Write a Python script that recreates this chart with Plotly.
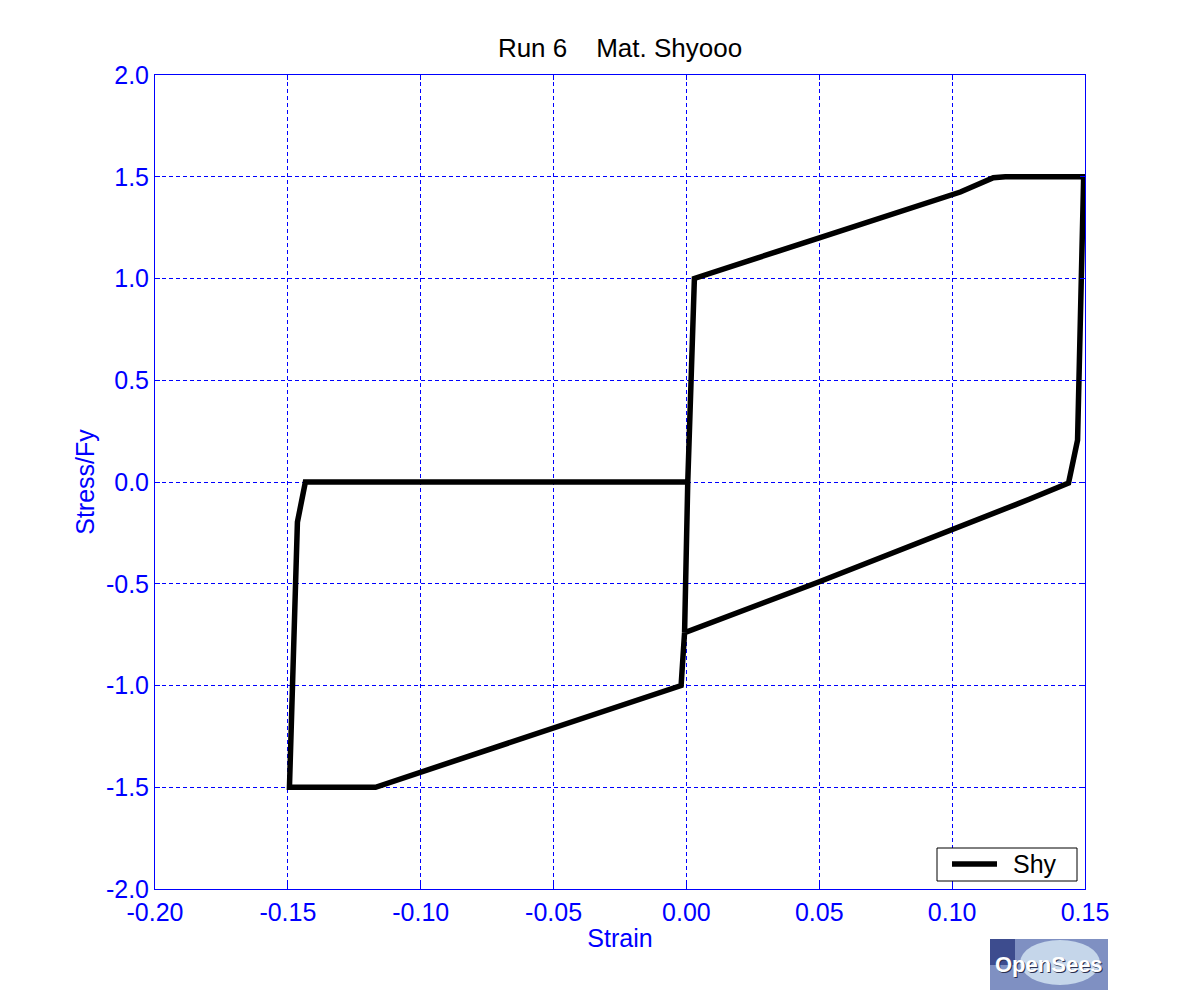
import plotly.graph_objects as go

# Hysteresis path (strain, stress/Fy)
strain = [0.0005, 0.003, 0.050, 0.1031, 0.1155, 0.1200, 0.1495, 0.1472, 0.1438,
          0.1290, 0.0500, -0.0007, -0.0020, -0.0500, -0.1140, -0.1170, -0.1494,
          -0.1464, -0.1434, 0.0005, -0.0007]
stress = [0.0, 1.0, 1.20, 1.425, 1.495, 1.50, 1.50, 0.206, -0.005,
          -0.085, -0.49, -0.74, -1.0, -1.21, -1.49, -1.50, -1.50,
          -0.197, 0.0, 0.0, -0.74]
series_name = "Shy"

x_ticks = [-0.20, -0.15, -0.10, -0.05, 0.00, 0.05, 0.10, 0.15]
x_tick_text = ["-0.20", "-0.15", "-0.10", "-0.05", "0.00", "0.05", "0.10", "0.15"]
y_ticks = [-2.0, -1.5, -1.0, -0.5, 0.0, 0.5, 1.0, 1.5, 2.0]
y_tick_text = ["-2.0", "-1.5", "-1.0", "-0.5", "0.0", "0.5", "1.0", "1.5", "2.0"]

FONT = "Liberation Sans, Arial, sans-serif"

# page pixel -> paper coordinate helpers (plot area: x 155..1085, y 75..889 on page)
def px(X):
    return (X - 155) / 930

def py(Y):
    return (889 - Y) / 814

fig = go.Figure()
fig.add_trace(go.Scatter(x=strain, y=stress, mode="lines", name=series_name,
                         line=dict(color="black", width=5.5), showlegend=False))

axis_common = dict(
    showline=True, linecolor="blue", linewidth=1, mirror="ticks",
    ticks="inside", ticklen=5, tickcolor="blue",
    showgrid=True, gridcolor="blue", gridwidth=1, griddash="4px,3px",
    zeroline=False,
    tickfont=dict(family=FONT, size=25, color="blue"),
)

fig.update_layout(
    width=1192, height=992,
    paper_bgcolor="white", plot_bgcolor="white",
    margin=dict(l=147, r=115, t=67, b=111),
    title=dict(text="Run 6&nbsp;&nbsp;&nbsp;&nbsp;Mat. Shyooo",
               x=612 / 1192, xanchor="center", y=1 - 40 / 992, yanchor="middle",
               font=dict(family=FONT, size=26, color="black")),
    xaxis=dict(range=[-0.2, 0.15], tickvals=x_ticks, ticktext=x_tick_text,
               ticklabelstandoff=1,
               title=dict(text="Strain", standoff=4,
                          font=dict(family=FONT, size=25, color="blue")),
               **axis_common),
    yaxis=dict(range=[-2.0, 2.0], tickvals=y_ticks, ticktext=y_tick_text,
               title=dict(text="Stress/Fy", standoff=4,
                          font=dict(family=FONT, size=25, color="blue")),
               **axis_common),
    showlegend=False,
)

# Legend box (drawn to match the reference's MATLAB-style legend)
fig.add_shape(type="rect", xref="paper", yref="paper",
              x0=px(937), x1=px(1077), y0=py(881), y1=py(848),
              fillcolor="white", line=dict(color="black", width=1), layer="above")
fig.add_shape(type="line", xref="paper", yref="paper",
              x0=px(952), x1=px(997), y0=py(864), y1=py(864),
              line=dict(color="black", width=5.5), layer="above")
fig.add_annotation(xref="paper", yref="paper", xanchor="left", yanchor="middle",
                   x=px(1011), y=py(864), text=series_name, showarrow=False,
                   font=dict(family=FONT, size=25, color="black"))

# OpenSees logo approximation
fig.add_shape(type="rect", xref="paper", yref="paper",
              x0=px(990), x1=px(1108), y0=py(990), y1=py(939),
              fillcolor="#7f90c2", line=dict(width=0), layer="above")
fig.add_shape(type="circle", xref="paper", yref="paper",
              x0=px(1020), x1=px(1100), y0=py(985), y1=py(940),
              fillcolor="#c5d6ea", line=dict(width=0), layer="above")
fig.add_shape(type="rect", xref="paper", yref="paper",
              x0=px(990), x1=px(1015), y0=py(965), y1=py(939),
              fillcolor="#3d4c8e", line=dict(width=0), layer="above")
fig.add_annotation(xref="paper", yref="paper", xanchor="center", yanchor="middle",
                   x=px(1050), y=py(966),
                   text="<b>OpenSees</b>", showarrow=False,
                   font=dict(family=FONT, size=22, color="#2a3050"))
fig.add_annotation(xref="paper", yref="paper", xanchor="center", yanchor="middle",
                   x=px(1048.5), y=py(964.5),
                   text="<b>OpenSees</b>", showarrow=False,
                   font=dict(family=FONT, size=22, color="white"))

fig.write_html("out.html")
